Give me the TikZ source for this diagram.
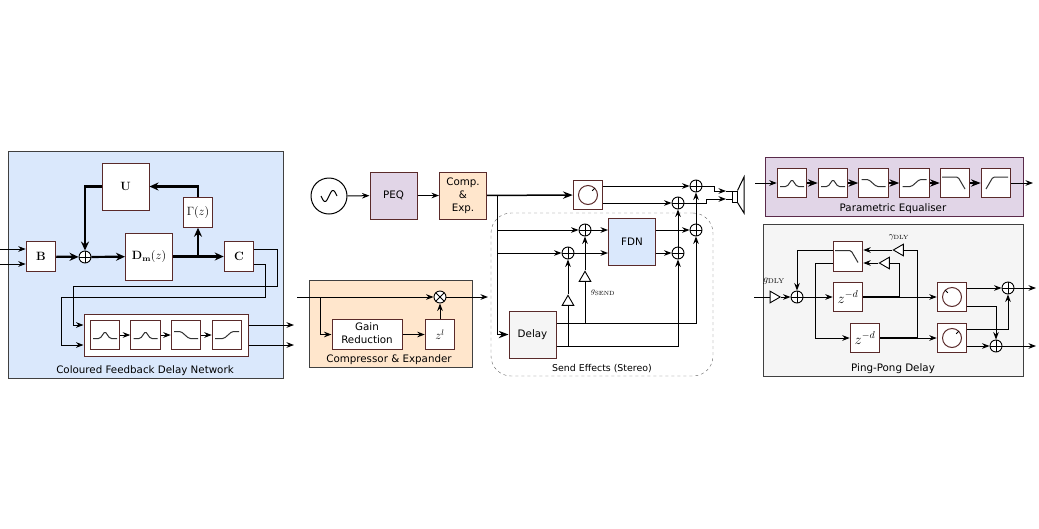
\documentclass[tikz,border=0pt]{standalone}
\usepackage[no-math]{fontspec}
\setmainfont{DejaVu Sans}
\usetikzlibrary{arrows.meta,calc,shapes.geometric}
\definecolor{fdnblue}{HTML}{DAE8FC}
\definecolor{comporange}{HTML}{FFE6CC}
\definecolor{peqpurple}{HTML}{E1D5E7}
\definecolor{delaygrey}{HTML}{F5F5F5}
\definecolor{boxedge}{HTML}{5A2A2A}
\definecolor{panelpurple}{HTML}{5A2A4A}
\def\bigside{47}
\def\smallside{29.5}

\tikzset{
	sig/.style={line width=1pt},
	bus/.style={line width=2.2pt, -{Stealth[length=9pt,width=8pt]}},
	midbus/.style={line width=1.5pt},
	panel/.style={draw=black!75, line width=1pt, inner sep=0pt},
	bigbox/.style={draw=boxedge, line width=1pt, fill=white, minimum size=\bigside, inner sep=0pt, font=\large},
	smallbox/.style={draw=boxedge, line width=1pt, fill=white, minimum size=\smallside, inner sep=0pt, font=\large},
	sumnode/.style={circle, draw, line width=0.9pt, fill=white, minimum size=12, inner sep=0pt,
		path picture={\draw[line width=0.8pt] (path picture bounding box.north) -- (path picture bounding box.south)
			(path picture bounding box.west) -- (path picture bounding box.east);}},
	mulnode/.style={circle, draw, line width=0.9pt, fill=white, minimum size=12, inner sep=0pt,
		path picture={\draw[line width=0.8pt] (path picture bounding box.north west) -- (path picture bounding box.south east)
			(path picture bounding box.south west) -- (path picture bounding box.north east);}},
	gaintri/.style={isosceles triangle, isosceles triangle apex angle=60, draw, line width=0.9pt, fill=white,
		minimum size=10, inner sep=0pt},
	paneltext/.style={font=\fontsize{10.3}{12}\selectfont},
	boxtext/.style={font=\fontsize{10.3}{13}\selectfont},
	filtcurve/.style={line width=1pt, black!80, rounded corners=1.5pt},
	pics/peakfilt/.style={code={\draw[filtcurve] (-12,3.5) -- (-5,3.5) -- (0,-3.5) -- (5,3.5) -- (12,3.5);}},
	pics/fallshelf/.style={code={\draw[filtcurve] (-12,-3.5) -- (-5,-3.5) -- (3,3.5) -- (12,3.5);}},
	pics/riseshelf/.style={code={\draw[filtcurve] (-12,3.5) -- (-3,3.5) -- (5,-3.5) -- (12,-3.5);}},
	pics/lowpass/.style={code={\draw[filtcurve] (-13,-6) -- (3,-6) -- (10,6);}},
	pics/highpass/.style={code={\draw[filtcurve] (-10,6) -- (-3,-6) -- (12,-6);}},
	pics/knob/.style={code={\draw[line width=1pt, boxedge] (0,0) circle (9.5);
		\draw[line width=1pt] (#1:9.5) -- (#1:6);}},
}

\begin{document}
\begin{tikzpicture}[x=1pt, y=-1pt, >=Stealth]
	\useasboundingbox (0,0) rectangle (1039,528);
	
	% ---------- Panels ----------
	\node[panel, fill=fdnblue, minimum width=275, minimum height=227] (fdnpanel) at (145.5,264.5) {};
	\node[panel, fill=comporange, minimum width=163, minimum height=87] (comppanel) at (390.5,323.5) {};
	\node[panel, draw=panelpurple, fill=peqpurple, minimum width=258, minimum height=59] (peqpanel) at (894,186.5) {};
	\node[panel, fill=delaygrey, minimum width=260, minimum height=152] (delaypanel) at (893,300) {};
	\node[draw=black!60, dashed, rounded corners=20pt, minimum width=222, minimum height=163] (sendpanel) at (602,294.5) {};
	
	\node[paneltext] (fdnlabel) at (145,370.5) {Coloured Feedback Delay Network};
	\node[paneltext] (complabel) at (389,359.5) {Compressor \& Expander};
	\node[paneltext] (peqlabel) at (893,208.5) {Parametric Equaliser};
	\node[paneltext] (delaylabel) at (893,368.5) {Ping-Pong Delay};
	\node[font=\fontsize{9.4}{11}\selectfont] (sendlabel) at (602,369) {Send Effects (Stereo)};
	
	% ---------- Coloured FDN ----------
	\node[smallbox] (B) at (41,256.5) {$\mathbf{B}$};
	\node[sumnode] (fdnsum) at (85,257) {};
	\node[bigbox] (Dm) at (149,256.5) {$\mathbf{D}_{\mathbf{m}}(z)$};
	\node[smallbox] (C) at (239,256.5) {$\mathbf{C}$};
	\node[bigbox] (U) at (125.5,186.5) {$\mathbf{U}$};
	\node[smallbox] (Gam) at (198,212.5) {$\Gamma(z)$};
	\coordinate (fdnin) at (0,256.5);
	\coordinate (Gamtap) at (198,256.5);
	
	\draw[sig,->] ([yshift=7.5]fdnin) -- ([yshift=7.5]B.west);
	\draw[sig,->] ([yshift=-7.5]fdnin) -- ([yshift=-7.5]B.west);
	\draw[bus] (B) -- (fdnsum);
	\draw[bus] (fdnsum) -- (Dm);
	\draw[bus] (Dm) -- (C);
	\draw[bus] (Gamtap) -- (Gam);
	\draw[bus] (Gam) |- (U);
	\draw[bus] (U) -| (fdnsum);
	
	\node[draw=boxedge, line width=1pt, fill=white, minimum width=164, minimum height=42] (bank) at (166,335) {};
	\foreach \nm/\xx/\kind in {a/105/peakfilt, b/145.5/peakfilt, c/186/fallshelf, d/227/riseshelf}{
		\node[smallbox] (bank\nm) at (\xx,335) {};
		\pic at (bank\nm) {\kind};
	}
	\draw[sig,->] (banka) -- (bankb);
	\draw[sig,->] (bankb) -- (bankc);
	\draw[sig,->] (bankc) -- (bankd);
	
	\draw[sig] ([yshift=7.5]C.east) -- ++(23,0) |- (73,286) -- (73,325) edge[->] ([yshift=10]bank.west);
	\draw[sig] ([yshift=-7.5]C.east) -- ++(11,0) |- (61,297) -- (61,345) edge[->] ([yshift=-10]bank.west);
	\coordinate (bankouta) at (294,325);
	\coordinate (bankoutb) at (294,345);
	\draw[sig,->] ([yshift=10]bank.east) -- (bankouta);
	\draw[sig,->] ([yshift=-10]bank.east) -- (bankoutb);
	
	% ---------- Compressor ----------
	\coordinate (compin) at (297,297);
	\coordinate (compout) at (488,297);
	\coordinate (comptap) at (320,297);
	\node[mulnode] (compmul) at (440,297) {};
	\node[smallbox, minimum width=70, boxtext] (gain) at (367,334.5) {\begin{tabular}{@{}c@{}}Gain\\Reduction\end{tabular}};
	\node[smallbox] (zl) at (440,334.5) {$z^{l}$};
	
	\draw[sig,->] (compin) -- (compmul);
	\draw[sig,->] (compmul) -- (compout);
	\draw[sig,->] (comptap) |- (gain);
	\draw[sig,->] (gain) -- (zl);
	\draw[sig,->] (zl) -- (compmul);
	
	% ---------- Top chain ----------
	\node[circle, draw, line width=1pt, minimum size=36, inner sep=0pt] (osc) at (329,196) {};
	\draw[line width=1pt, shift={(osc.center)}] plot[domain=-8:8, samples=30, smooth] (\x,{-5.5*sin(\x*22.5)});
	\node[bigbox, fill=peqpurple, boxtext] (PEQ) at (393.5,195.5) {PEQ};
	\node[bigbox, fill=comporange, boxtext] (comp) at (463,195.5) {\begin{tabular}{@{}c@{}}Comp.\\\&\\Exp.\end{tabular}};
	\node[smallbox] (sendknob) at (588,195) {};
	\pic at (sendknob) {knob=-45};
	
	\draw[sig,->] (osc) -- (PEQ);
	\draw[sig,->] (PEQ) -- (comp);
	\draw[midbus,->] (comp) -- (sendknob);
	
	% ---------- Send effects ----------
	\node[bigbox, fill=delaygrey, boxtext] (delay) at (532.5,334.5) {Delay};
	\node[bigbox, fill=fdnblue, boxtext] (FDN) at (632,242) {FDN};
	\node[sumnode] (suma) at (585,230) {};
	\node[sumnode] (sumb) at (568,253) {};
	\node[sumnode] (sumc) at (696,230) {};
	\node[sumnode] (sumd) at (678,253) {};
	\node[sumnode] (sume) at (696,186) {};
	\node[sumnode] (sumf) at (678,203) {};
	\node[gaintri, shape border rotate=90] (triA) at (585,278) {};
	\node[gaintri, shape border rotate=90] (triB) at (568,302) {};
	\node (gsend) at (603,293) {\fontsize{8}{10}\selectfont$g_{\mathrm{SEND}}$};
	\coordinate (sendbus) at (497.5,195.5);
	\coordinate (tapup) at (497.5,230);
	\coordinate (taplo) at (497.5,253);
	
	\draw[midbus,->] (sendbus) |- (delay);
	\draw[sig,->] (tapup) -- (suma);
	\draw[sig,->] (taplo) -- (sumb);
	\draw[sig,->] (suma) -- (suma -| FDN.west);
	\draw[sig,->] (sumb) -- (sumb -| FDN.west);
	\draw[sig,->] (FDN.east |- suma) -- (sumc);
	\draw[sig,->] (FDN.east |- sumb) -- (sumd);
	
	\coordinate (delayup) at ([yshift=11.5]delay.east);
	\coordinate (delaylo) at ([yshift=-11.5]delay.east);
	\draw[sig,->] (delayup) -| (sumc);
	\draw[sig,->] (delaylo) -| (sumd);
	\draw[sig] (triA.south |- delayup) -- (triA.south);
	\draw[sig,->] (triA.apex) -- (suma);
	\draw[sig] (triB.south |- delaylo) -- (triB.south);
	\draw[sig,->] (triB.apex) -- (sumb);
	\draw[sig,->] (sumc) -- (sume);
	\draw[sig,->] (sumd) -- (sumf);
	
	\draw[sig,->] (sendknob.east |- sume) -- (sume);
	\draw[sig,->] (sendknob.east |- sumf) -- (sumf);
	
	% ---------- Speaker ----------
	\node[draw, line width=1pt, fill=white, minimum width=5, minimum height=11, inner sep=0pt] (spk) at (734.5,196.5) {};
	\draw[line width=1pt] (spk.north east) -- (744,177) -- (744,213) -- (spk.south east);
	\coordinate (spktipa) at (726,191);
	\coordinate (spktipb) at (726,199);
	\draw[sig,->] (sume) -- (714,186) -- (714,191) -- (spktipa);
	\draw[sig,->] (sumf) -- (706,203) -- (706,199) -- (spktipb);
	\draw[sig] (spktipa) -- (spktipa -| spk.west);
	\draw[sig] (spktipb) -- (spktipb -| spk.west);
	
	% ---------- Parametric EQ ----------
	\coordinate (peqin) at (755,183);
	\coordinate (peqout) at (1033,183);
	\foreach \nm/\xx/\kind in {a/792/peakfilt, b/833/peakfilt, c/873.5/fallshelf, d/914.5/riseshelf, e/955/lowpass, f/996/highpass}{
		\node[smallbox] (peq\nm) at (\xx,183) {};
		\pic at (peq\nm) {\kind};
	}
	\draw[sig,->] (peqin) -- (peqa);
	\foreach \from/\to in {a/b, b/c, c/d, d/e, e/f}{
		\draw[midbus,->] (peq\from) -- (peq\to);
	}
	\draw[sig,->] (peqf) -- (peqout);
	
	% ---------- Ping-pong delay ----------
	\coordinate (dlyin) at (754,297);
	\node[gaintri] (gdly) at (773.5,297) {};
	\node (gdlylabel) at (774,281) {\fontsize{10}{11}\selectfont$g_{\mathrm{DLY}}$};
	\node[sumnode] (dlysum) at (797,297) {};
	\node[smallbox] (dlylp) at (848,256.5) {};
	\pic at (dlylp) {lowpass};
	\node[smallbox, font=\Large] (zone) at (848,297) {$z^{-d}$};
	\node[smallbox, font=\Large] (ztwo) at (865,338) {$z^{-d}$};
	\node[smallbox] (knobone) at (952,297) {};
	\pic at (knobone) {knob=-135};
	\node[smallbox] (knobtwo) at (952,338) {};
	\pic at (knobtwo) {knob=-45};
	\node[sumnode] (outone) at (1008,288) {};
	\node[sumnode] (outtwo) at (996,346) {};
	\node[gaintri, shape border rotate=180] (fbB) at (886,263) {};
	\node[gaintri, shape border rotate=180] (fbA) at (900,250) {};
	\node (gamdly) at (899,237) {\fontsize{9}{10}\selectfont$\gamma_{\mathrm{DLY}}$};
	\coordinate (dlyouta) at (1036,288);
	\coordinate (dlyoutb) at (1036,346);
	\coordinate (tapone) at (899,297);
	\coordinate (taptwo) at (917,338);
	
	\draw[sig] (dlyin) -- (gdly.west);
	\draw[sig,->] (gdly.apex) -- (dlysum);
	\draw[sig,->] (dlysum) -- (zone);
	\draw[midbus] (zone) -- (tapone);
	\draw[sig,->] (tapone) -- (knobone);
	\draw[midbus] (ztwo) -- (taptwo);
	\draw[sig,->] (taptwo) -- (knobtwo);
	\draw[sig] (tapone) |- (fbB.east);
	\draw[sig,->] (fbB.apex) -- (dlylp.east |- fbB);
	\draw[sig] (taptwo) |- (fbA.east);
	\draw[sig,->] (fbA.apex) -- (dlylp.east |- fbA);
	\draw[sig,->] ([yshift=6]dlylp.west) -| (dlysum);
	\draw[sig,->] ([yshift=-6.5]dlylp.west) -- ++(-17,0) |- (ztwo);
	\draw[sig,->] ([yshift=9]knobone.east) -- (outone);
	\draw[sig,->] ([yshift=-9]knobone.east) -| (outtwo);
	\draw[sig,->] ([yshift=9]knobtwo.east) -| (outone);
	\draw[sig,->] ([yshift=-8]knobtwo.east) -- (outtwo);
	\draw[sig,->] (outone) -- (dlyouta);
	\draw[sig,->] (outtwo) -- (dlyoutb);
	
\end{tikzpicture}
\end{document}
